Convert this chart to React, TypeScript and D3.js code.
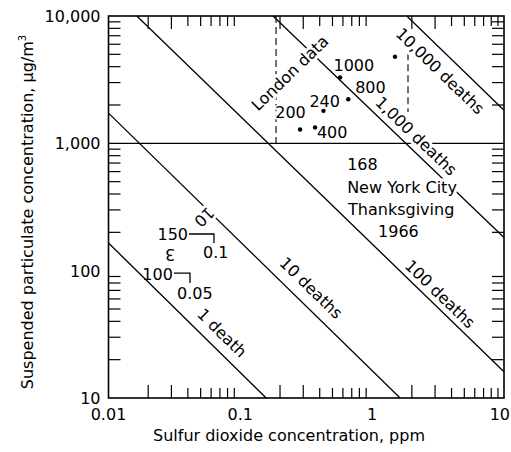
import React from "react";
import * as d3 from "d3";

// ---------- data ----------
const xDomain = [0.01, 10];
const yDomain = [10, 10000];
const xTickValues = [0.01, 0.1, 1, 10];
const xTickLabels = ["0.01", "0.1", "1", "10"];
const yTickValues = [10, 100, 1000, 10000];
const yTickLabels = ["10", "100", "1,000", "10,000"];
const minorMultipliers = [2, 3, 4, 5, 6, 7, 8, 9];

// iso-mortality lines (SO2 ppm, particulate ug/m3)
const deathLabels = ["1 death", "10 deaths", "100 deaths", "1,000 deaths", "10,000 deaths"];
const deathLineStart = [[0.01, 165], [0.01, 1726], [0.0164, 10000], [0.177, 10000], [1.83, 10000]];
const deathLineEnd = [[0.157, 10], [1.63, 10], [10, 16.1], [10, 182], [10, 1820]];
const deathLabelAt = [[0.0726, 32.4], [0.344, 73], [3.27, 65.5], [2.15, 1140], [3.27, 3690]];

// London episodes
const londonX = [0.571, 1.49, 0.659, 0.427, 0.284, 0.369];
const londonY = [3290, 4780, 2220, 1800, 1285, 1334];
const londonLabels = ["1000", "", "800", "240", "200", "400"];
const londonLabelAt = [[0.509, 3700], [0, 0], [0.743, 2470], [0.334, 1930], [0.184, 1590], [0.381, 1110]];
const londonBoundX = [0.1866, 1.87];
const londonBoundTop = [10000, 5100];
const londonBoundBottom = [1000, 1760];
const londonTitle = "London data";
const londonTitleAt = [0.238, 3556];

// New York City
const nycLines = ["168", "New York City", "Thanksgiving", "1966"];
const nycAt = [[0.646, 617], [0.646, 406], [0.656, 273], [1.109, 184]];

// small key
const keyTexts = ["150", "0.1", "100", "0.05"];
const keyAt = [[0.0401, 174], [0.0521, 125.6], [0.0308, 84.3], [0.0331, 59.8]];
const keyAnchor = ["end", "start", "end", "start"];
const keyArrows = [
  [[0.0408, 194], [0.0631, 194], [0.0631, 165]],
  [[0.0314, 95.7], [0.0415, 95.7], [0.0415, 80]],
];
const rotatedMarks = ["10", "3"];
const rotatedAt = [[0.0531, 264], [0.0293, 135]];
const rotatedAngle = [135, 180];

// ---------- layout ----------
const W = 511;
const H = 452;
const PL = 108.5;
const PR = 504;
const PT = 16;
const PB = 398;
const FONT = "'DejaVu Sans', Arial, sans-serif";

export default function App() {
  const x = d3.scaleLog().domain(xDomain).range([PL, PR]);
  const y = d3.scaleLog().domain(yDomain).range([PB, PT]);
  const line = d3.line<number[]>().x((d) => x(d[0])).y((d) => y(d[1]));

  const xMinor: { v: number; m: number }[] = [];
  for (let i = 0; i < xTickValues.length - 1; i++)
    for (const m of minorMultipliers) xMinor.push({ v: xTickValues[i] * m, m });
  const yMinor: { v: number; m: number }[] = [];
  for (let i = 0; i < yTickValues.length - 1; i++)
    for (const m of minorMultipliers) yMinor.push({ v: yTickValues[i] * m, m });
  const tl = (m: number) => (m <= 3 ? 13 : 10);

  const halo = { stroke: "#fff", strokeWidth: 6, paintOrder: "stroke", strokeLinejoin: "round" } as any;

  return (
    <svg
      width={W}
      height={H}
      viewBox={`0 0 ${W} ${H}`}
      style={{ position: "absolute", left: 0, top: 0, background: "#fff" }}
      fontFamily={FONT}
      fontSize={16}
    >
      <rect x={0} y={0} width={W} height={H} fill="#fff" />
      {/* minor ticks */}
      <g stroke="#000" strokeWidth={1.2}>
        {xMinor.map((t, i) => (
          <g key={"xm" + i}>
            <line x1={x(t.v)} x2={x(t.v)} y1={PB} y2={PB - tl(t.m)} />
            <line x1={x(t.v)} x2={x(t.v)} y1={PT} y2={PT + tl(t.m)} />
          </g>
        ))}
        {yMinor.map((t, i) => (
          <g key={"ym" + i}>
            <line x1={PL} x2={PL + 12} y1={y(t.v)} y2={y(t.v)} />
            <line x1={PR} x2={PR - 12} y1={y(t.v)} y2={y(t.v)} />
          </g>
        ))}
      </g>
      {/* 1000 reference line */}
      <line x1={PL} x2={PR} y1={y(1000)} y2={y(1000)} stroke="#000" strokeWidth={1.3} />
      {/* death lines */}
      {deathLineStart.map((s, i) => (
        <path key={"dl" + i} d={line([s, deathLineEnd[i]]) || ""} fill="none" stroke="#000" strokeWidth={1.3} />
      ))}
      {/* London bounds */}
      {londonBoundX.map((bx, i) => (
        <line
          key={"lb" + i}
          x1={x(bx)}
          x2={x(bx)}
          y1={y(londonBoundTop[i])}
          y2={y(londonBoundBottom[i])}
          stroke="#000"
          strokeWidth={1.1}
          strokeDasharray="7,4"
        />
      ))}
      {/* key arrows */}
      {keyArrows.map((a, i) => (
        <path key={"ka" + i} d={line(a) || ""} fill="none" stroke="#000" strokeWidth={1.3} />
      ))}
      {/* frame */}
      <rect x={PL} y={PT} width={PR - PL} height={PB - PT} fill="none" stroke="#000" strokeWidth={1.6} />

      {/* death labels */}
      {deathLabels.map((lab, i) => {
        const s = deathLineStart[i];
        const e = deathLineEnd[i];
        const ang = (Math.atan2(y(e[1]) - y(s[1]), x(e[0]) - x(s[0])) * 180) / Math.PI;
        const px = x(deathLabelAt[i][0]);
        const py = y(deathLabelAt[i][1]);
        return (
          <text
            key={"dt" + i}
            x={px}
            y={py}
            textAnchor="middle"
            dominantBaseline="central"
            transform={`rotate(${ang},${px},${py})`}
            {...halo}
          >
            {lab}
          </text>
        );
      })}
      {/* London title */}
      {(() => {
        const px = x(londonTitleAt[0]);
        const py = y(londonTitleAt[1]);
        return (
          <text x={px} y={py} textAnchor="middle" dominantBaseline="central" transform={`rotate(-44,${px},${py})`} {...halo}>
            {londonTitle}
          </text>
        );
      })()}
      {/* London points */}
      {londonX.map((lx, i) => (
        <circle key={"lp" + i} cx={x(lx)} cy={y(londonY[i])} r={2.2} fill="#000" />
      ))}
      {londonLabels.map((lab, i) =>
        lab ? (
          <text key={"ll" + i} x={x(londonLabelAt[i][0])} y={y(londonLabelAt[i][1])} {...halo} strokeWidth={3}>
            {lab}
          </text>
        ) : null
      )}
      {/* NYC */}
      {nycLines.map((t, i) => (
        <text key={"ny" + i} x={x(nycAt[i][0])} y={y(nycAt[i][1])} {...halo}>
          {t}
        </text>
      ))}
      {/* key */}
      {keyTexts.map((t, i) => (
        <text key={"kt" + i} x={x(keyAt[i][0])} y={y(keyAt[i][1])} textAnchor={keyAnchor[i]}>
          {t}
        </text>
      ))}
      {rotatedMarks.map((t, i) => {
        const px = x(rotatedAt[i][0]);
        const py = y(rotatedAt[i][1]);
        return (
          <text
            key={"rm" + i}
            x={px}
            y={py}
            textAnchor="middle"
            dominantBaseline="central"
            transform={`rotate(${rotatedAngle[i]},${px},${py})`}
            {...halo}
          >
            {t}
          </text>
        );
      })}

      {/* axis tick labels */}
      {xTickValues.map((v, i) => {
        const last = i === xTickValues.length - 1;
        return (
          <text
            key={"xt" + i}
            x={last ? Math.min(x(v) + 6, W - 1) : x(v)}
            y={PB + 22}
            textAnchor={last ? "end" : "middle"}
          >
            {xTickLabels[i]}
          </text>
        );
      })}
      {yTickValues.map((v, i) => (
        <text key={"yt" + i} x={PL - 8} y={y(v) + 6} textAnchor="end">
          {yTickLabels[i]}
        </text>
      ))}
      {/* axis titles */}
      <text x={289} y={441} textAnchor="middle">
        Sulfur dioxide concentration, ppm
      </text>
      <text x={33} y={212} textAnchor="middle" transform="rotate(-90,33,212)">
        Suspended particulate concentration, μg/m
        <tspan dy={-7} fontSize={10}>
          3
        </tspan>
      </text>
    </svg>
  );
}
